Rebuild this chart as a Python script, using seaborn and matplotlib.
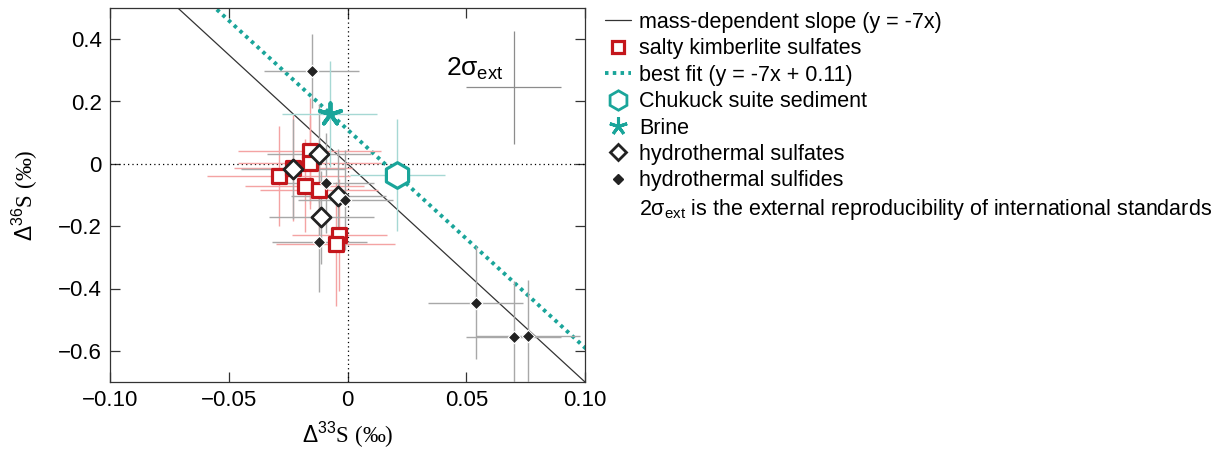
import numpy as np
import pandas as pd
import matplotlib
matplotlib.use("Agg")
import matplotlib.pyplot as plt
from matplotlib.lines import Line2D
import seaborn as sns

sns.set_style("ticks")
plt.rcParams['font.family'] = ['Liberation Sans', 'DejaVu Sans']
plt.rcParams['mathtext.fontset'] = 'custom'
plt.rcParams['mathtext.rm'] = 'Liberation Sans'
plt.rcParams['mathtext.it'] = 'Liberation Sans'
plt.rcParams['text.color'] = 'black'
plt.rcParams['axes.labelcolor'] = 'black'
plt.rcParams['xtick.color'] = 'black'
plt.rcParams['ytick.color'] = 'black'

# salty kimberlite sulfates
kimb_x = [-0.016, -0.016, -0.029, -0.023, -0.018, -0.012, -0.0035, -0.005]
kimb_y = [0.042, 0.004, -0.038, -0.013, -0.070, -0.084, -0.228, -0.257]
kimb_xerr = [0.030, 0.030, 0.030, 0.025, 0.025, 0.025, 0.020, 0.025]
kimb_yerr = [0.17, 0.15, 0.16, 0.17, 0.15, 0.16, 0.18, 0.20]

# hydrothermal sulfates
hsulfate_x = [-0.012, -0.023, -0.011, -0.004]
hsulfate_y = [0.033, -0.017, -0.172, -0.103]
hsulfate_xerr = [0.022, 0.022, 0.022, 0.020]
hsulfate_yerr = [0.16, 0.16, 0.15, 0.15]

# hydrothermal sulfides
hsulfide_x = [-0.015, -0.009, -0.001, -0.012, 0.054, 0.070, 0.076]
hsulfide_y = [0.298, -0.062, -0.116, -0.252, -0.445, -0.557, -0.553]
hsulfide_xerr = [0.020, 0.020, 0.020, 0.020, 0.020, 0.020, 0.022]
hsulfide_yerr = [0.12, 0.16, 0.16, 0.16, 0.18, 0.18, 0.18]

# Brine and Chukuck suite sediment
brine_x, brine_y, brine_xerr, brine_yerr = [-0.0075], [0.159], [0.020], [0.17]
chuk_x, chuk_y, chuk_xerr, chuk_yerr = [0.021], [-0.035], [0.020], [0.18]

# external reproducibility cross
sig_x, sig_y, sig_xerr, sig_yerr = [0.070], [0.245], [0.020], [0.18]

red = '#c4161c'
teal = '#1aa59a'

fig = plt.figure(figsize=(12.31, 4.54), dpi=100)
ax = fig.add_axes([110 / 1231, 1 - 382 / 454, 475 / 1231, 374 / 454])

# reference lines
ax.axhline(0, color='black', lw=0.9, ls=(0, (1, 2.5)), zorder=1)
ax.axvline(0, color='black', lw=0.9, ls=(0, (1, 2.5)), zorder=1)
xs = np.array([-0.2, 0.2])
ax.plot(xs, -7 * xs, color='#333333', lw=0.9, zorder=2)
ax.plot(xs, -7 * xs + 0.11, color=teal, lw=2.8, ls=(0, (0.9, 1.1)), zorder=2)

# error bars
ax.errorbar(kimb_x, kimb_y, xerr=kimb_xerr, yerr=kimb_yerr, fmt='none',
            ecolor='#f4a3a3', elinewidth=1.0, zorder=3)
ax.errorbar(hsulfate_x, hsulfate_y, xerr=hsulfate_xerr, yerr=hsulfate_yerr, fmt='none',
            ecolor='#a8a8a8', elinewidth=1.0, zorder=3)
ax.errorbar(hsulfide_x, hsulfide_y, xerr=hsulfide_xerr, yerr=hsulfide_yerr, fmt='none',
            ecolor='#a8a8a8', elinewidth=1.0, zorder=3)
ax.errorbar(brine_x + chuk_x, brine_y + chuk_y, xerr=brine_xerr + chuk_xerr,
            yerr=brine_yerr + chuk_yerr, fmt='none', ecolor='#a6d8d4', elinewidth=1.0, zorder=3)
ax.errorbar(sig_x, sig_y, xerr=sig_xerr, yerr=sig_yerr, fmt='none',
            ecolor='#8c8c8c', elinewidth=0.9, zorder=3)
ax.text(0.0415, 0.245 + 0.06, r'2$\sigma_{\mathrm{ext}}$', fontsize=19, ha='left', va='center')

# markers
sns.scatterplot(x=kimb_x, y=kimb_y, ax=ax, marker='s', s=115, facecolor='white',
                edgecolor=red, linewidth=2.3, zorder=5)
sns.scatterplot(x=hsulfate_x, y=hsulfate_y, ax=ax, marker='D', s=95, facecolor='white',
                edgecolor='#222222', linewidth=2.0, zorder=6)
sns.scatterplot(x=hsulfide_x, y=hsulfide_y, ax=ax, marker='D', s=40, color='#222222',
                edgecolor='white', linewidth=0.8, zorder=6)
sns.scatterplot(x=brine_x, y=brine_y, ax=ax, marker=(5, 2, 0), s=260, color=teal,
                linewidth=2.8, edgecolor=teal, zorder=6)
sns.scatterplot(x=chuk_x, y=chuk_y, ax=ax, marker='h', s=340, facecolor='white',
                edgecolor=teal, linewidth=2.3, zorder=6)

ax.set_xlim(-0.10, 0.10)
ax.set_ylim(-0.70, 0.50)
ax.set_xticks([-0.10, -0.05, 0, 0.05, 0.10])
ax.set_xticklabels(['\u22120.10', '\u22120.05', '0', '0.05', '0.10'])
ax.set_yticks([0.4, 0.2, 0, -0.2, -0.4, -0.6])
ax.set_yticklabels(['0.4', '0.2', '0', '\u22120.2', '\u22120.4', '\u22120.6'])
ax.tick_params(direction='in', top=True, right=True, length=7, width=0.9,
               labelsize=16, pad=6, color='#333333', labelcolor='black')
for sp in ax.spines.values():
    sp.set_linewidth(0.9)
    sp.set_color('#333333')

ax.set_xlabel('$\\Delta^{33}$S (\u2030)', fontsize=16.5, family='Liberation Serif', labelpad=6)
ax.set_ylabel('$\\Delta^{36}$S (\u2030)', fontsize=16.5, family='Liberation Serif', labelpad=13)

# legend
handles = [
    Line2D([], [], color='#333333', lw=0.9),
    Line2D([], [], ls='none', marker='s', ms=9, mfc='white', mec=red, mew=2.3),
    Line2D([], [], color=teal, lw=2.8, ls=(0, (0.9, 1.1))),
    Line2D([], [], ls='none', marker='h', ms=14, mfc='white', mec=teal, mew=2.0),
    Line2D([], [], ls='none', marker=(5, 2, 0), ms=13, mec=teal, mew=2.2),
    Line2D([], [], ls='none', marker='D', ms=8.5, mfc='white', mec='#222222', mew=2.0),
    Line2D([], [], ls='none', marker='D', ms=5, color='#222222'),
    Line2D([], [], ls='none'),
]
labels = [
    'mass-dependent slope (y = -7x)',
    'salty kimberlite sulfates',
    'best fit (y = -7x + 0.11)',
    'Chukuck suite sediment',
    'Brine',
    'hydrothermal sulfates',
    'hydrothermal sulfides',
    r'2$\sigma_{\mathrm{ext}}$ is the external reproducibility of international standards',
]
fig.legend(handles, labels, loc='upper left', bbox_to_anchor=(605 / 1231, 1 - 12 / 454),
           frameon=False, fontsize=15.5, handlelength=1.2, handletextpad=0.4,
           labelspacing=0.25, borderaxespad=0, borderpad=0, labelcolor='black')

fig.savefig('out.png', dpi=100)
